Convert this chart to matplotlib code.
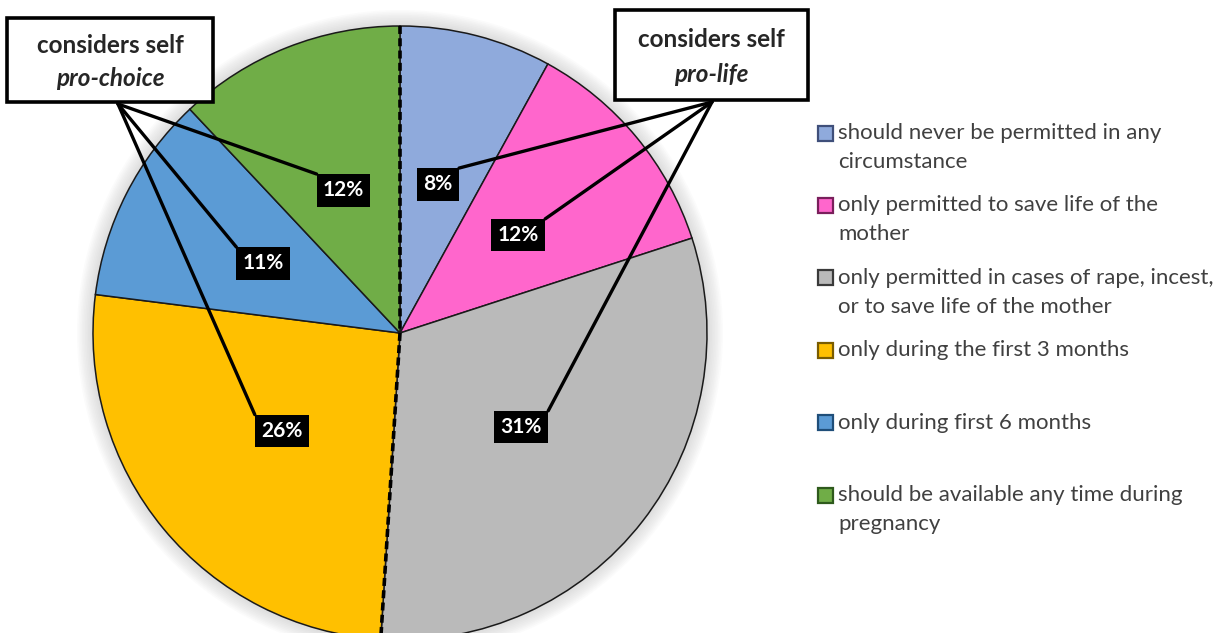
import matplotlib
matplotlib.use('Agg')
import matplotlib.pyplot as plt
from matplotlib.patches import Rectangle, Circle
import numpy as np

# data
categories = [
    'should never be permitted in any\ncircumstance',
    'only permitted to save life of the\nmother',
    'only permitted in cases of rape, incest,\nor to save life of the mother',
    'only during the first 3 months',
    'only during first 6 months',
    'should be available any time during\npregnancy',
]
shares = [8, 12, 31, 26, 11, 12]
colors = ['#8FAADC', '#FF66CC', '#BABABA', '#FFC000', '#5B9BD5', '#70AD47']
edge_colors = ['#3F4F7A', '#7A1F5C', '#3A3A3A', '#7A5C00', '#1F4E79', '#2E5A1C']
prolife_idx = [0, 1, 2]
prochoice_idx = [5, 4, 3]

plt.rcParams['font.family'] = ['Lato', 'DejaVu Sans']

W, H = 1225, 633
fig = plt.figure(figsize=(W / 100, H / 100), dpi=100)
ax = fig.add_axes([0, 0, 1, 1])

cx, cy, R = 400, H - 333, 307

# soft shadow around the pie
for k in range(10, 0, -1):
    ax.add_patch(Circle((cx, cy), R + k * 1.6, color='#9a9a9a', alpha=0.035, zorder=0, lw=0))

wedges, texts, autotexts = ax.pie(
    shares, colors=colors, startangle=90, counterclock=False,
    center=(cx, cy), radius=R, autopct='%d%%', pctdistance=0.5,
    wedgeprops=dict(edgecolor='#1a1a1a', linewidth=1.1),
    textprops=dict(color='white', fontsize=15, fontweight='bold'))
for t in autotexts:
    t.set_bbox(dict(boxstyle='square,pad=0.3', fc='black', ec='none'))
    t.set_zorder(6)

ax.set_xlim(0, W)
ax.set_ylim(0, H)
ax.set_aspect('equal')
ax.axis('off')

# dashed divider between the pro-life and pro-choice halves
split = np.sum(shares[:3]) / np.sum(shares)
a_top = np.deg2rad(90)
a_bot = np.deg2rad(90 - 360 * split)
ax.plot([cx + R * np.cos(a_top), cx, cx + R * np.cos(a_bot)],
        [cy + R * np.sin(a_top), cy, cy + R * np.sin(a_bot)],
        color='black', lw=2.6, ls=(0, (2.2, 1.2)), zorder=4)

fig.canvas.draw()
renderer = fig.canvas.get_renderer()
inv = ax.transData.inverted()


def box_corner(i, side):
    ext = autotexts[i].get_bbox_patch().get_window_extent(renderer)
    (x0, y0), (x1, y1) = inv.transform([[ext.x0, ext.y0], [ext.x1, ext.y1]])
    return (x0, y1) if side == 'left' else (x1, y1)


def callout(x0, y0, x1, y1, title, sub, origin, idx, side):
    ax.add_patch(Rectangle((x0, H - y1), x1 - x0, y1 - y0, fc='white', ec='black', lw=2.6, zorder=7))
    xc = (x0 + x1) / 2
    ax.text(xc, H - (y0 + 0.33 * (y1 - y0)), title, ha='center', va='center',
            fontsize=17.5, fontweight='bold', color='#262626', zorder=8)
    ax.text(xc, H - (y0 + 0.72 * (y1 - y0)), sub, ha='center', va='center',
            fontsize=17.5, fontweight='bold', fontstyle='italic', color='#262626', zorder=8)
    for i in idx:
        ex, ey = box_corner(i, side)
        ax.plot([origin[0], ex], [H - origin[1], ey], color='black', lw=2.4,
                solid_capstyle='round', zorder=5)


callout(7, 18, 213, 102, 'considers self', 'pro-choice', (118, 104), prochoice_idx, 'left')
callout(615, 10, 808, 100, 'considers self', 'pro-life', (712, 102), prolife_idx, 'right')

# legend
for i, (lab, c, ec) in enumerate(zip(categories, colors, edge_colors)):
    y = 133 + i * 72.4
    ax.add_patch(Rectangle((818, H - y - 7.5), 15, 15, fc=c, ec=ec, lw=1.6, zorder=3))
    for j, line in enumerate(lab.split('\n')):
        ax.text(838, H - (y + j * 29), line, ha='left', va='center',
                fontsize=16, color='#404040')

fig.savefig('out.png', dpi=100)
